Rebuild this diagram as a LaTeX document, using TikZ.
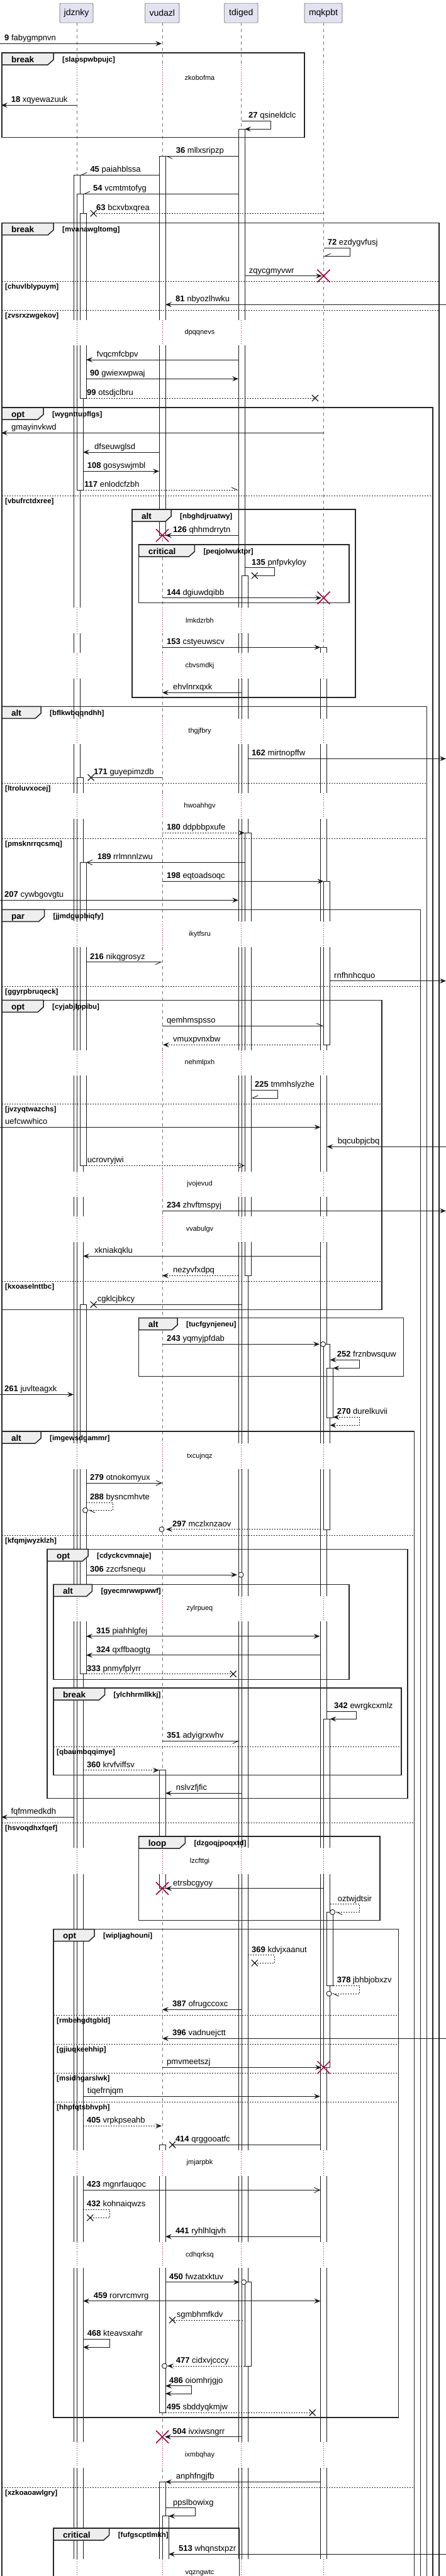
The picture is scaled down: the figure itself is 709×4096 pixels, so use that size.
\documentclass[tikz,border=0pt]{standalone}
\usepackage{fontspec}
\setmainfont{Liberation Sans}
\usetikzlibrary{arrows.meta}
\definecolor{pfill}{HTML}{E2E2F0}
\definecolor{tabfill}{HTML}{EEEEEE}
\definecolor{dred}{HTML}{A80036}
\newcounter{mc}
\tikzset{
 life/.style={draw=black!55, line width=0.5pt, dash pattern=on 5pt off 5pt},
 actbar/.style={draw=black!90, fill=white, line width=0.6pt},
 msg/.style={draw=black!90, line width=0.9pt},
 dsh/.style={dash pattern=on 2pt off 2pt},
 fa/.style={-{Stealth[length=10pt,width=8pt,inset=4pt]}},
 fab/.style={{Stealth[length=10pt,width=8pt,inset=4pt]}-{Stealth[length=10pt,width=8pt,inset=4pt]}},
 oa/.style={-{Straight Barb[length=9pt,width=8pt]}},
 hl/.style={-{Straight Barb[left,length=9pt,width=8pt]}},
 hr/.style={-{Straight Barb[right,length=9pt,width=8pt]}},
 lbl/.style={anchor=base west, inner sep=0pt, yshift=4.5pt, font=\fontsize{13}{15}\selectfont},
 grp/.style={draw=black!85, line width=1.5pt},
 tabs/.style={draw=black!85, line width=1.5pt, fill=tabfill},
 tabl/.style={anchor=base west, inner sep=0pt, font=\bfseries\fontsize{13.5}{15}\selectfont},
 grd/.style={anchor=base west, inner sep=0pt, font=\bfseries\fontsize{11.5}{13}\selectfont},
 gsep/.style={draw=black!85, line width=0.8pt, dash pattern=on 2pt off 2pt},
 dly/.style={draw=dred, line width=0.8pt, dash pattern=on 0.8pt off 2.6pt},
 dtxt/.style={inner sep=0pt, font=\fontsize{11}{13}\selectfont},
 xb/.style={draw=black!90, line width=1.2pt},
 xr/.style={draw=dred, line width=1.5pt},
 circ/.style={draw=black!90, line width=0.9pt, fill=white},
 part/.style={draw=black!60, fill=pfill, line width=0.7pt, rounded corners=2pt, font=\fontsize{14}{16}\selectfont, inner sep=0pt, minimum height=31pt},
}
\newcommand\Msg[7]{%
  \stepcounter{mc}%
  \coordinate (ma\themc) at (#3,#2);%
  \coordinate (mb\themc) at (#4,#2);%
  \draw[msg,#1] (ma\themc) -- (mb\themc);%
  \node[lbl] (ml\themc) at (#5,#2) {\ifx\relax#6\relax\else\textbf{#6}\ \fi #7};%
}
\newcommand\Self[9]{%
  \stepcounter{mc}%
  \coordinate (sa\themc) at (#4,#2);%
  \coordinate (sb\themc) at (#5,#2);%
  \coordinate (sc\themc) at (#5,#3);%
  \coordinate (sd\themc) at (#6,#3);%
  \draw[msg,#1] (sa\themc) -- (sb\themc) -- (sc\themc) -- (sd\themc);%
  \node[lbl] (sl\themc) at (#7,#2) {\ifx\relax#8\relax\else\textbf{#8}\ \fi #9};%
}
\newcommand\Xb[2]{\draw[xb] (#1,#2) ++(-5,-5) -- ++(10,10) ++(0,-10) -- ++(-10,10);}
\newcommand\Xr[2]{\draw[xr] (#1,#2) ++(-10,-10) -- ++(20,20) ++(0,-20) -- ++(-20,20);}
\newcommand\Circ[2]{\draw[circ] (#1,#2) circle[radius=4pt];}
\newcommand\ActBar[4]{\draw[actbar] (#1,#3) rectangle (#2,#4);}
\newcommand\Grp[7]{%
  \stepcounter{mc}%
  \draw[grp] (#1,#2) rectangle (#3,#4);%
  \draw[tabs] (#1,#2) -- (#5,#2) -- ++(0,11) -- ++(-9,8) -| (#1,#2) -- cycle;%
  \node[tabl,xshift=15pt,yshift=-15pt] (gt\themc) at (#1,#2) {#6};%
  \node[grd,xshift=14pt,yshift=-14pt] (gg\themc) at (#5,#2) {[#7]};%
}
\newcommand\GSep[4]{%
  \stepcounter{mc}%
  \draw[gsep] (#1,#3) -- (#2,#3);%
  \node[grd,xshift=5pt,yshift=-12pt] (gs\themc) at (#1,#3) {[#4]};%
}
\newcommand\Dly[3]{%
  \stepcounter{mc}%
  \foreach \lx in {122,258,383.5,514.5} {\fill[white] (\lx-17,#1) rectangle (\lx+17,#2); \draw[dly] (\lx,#1) -- (\lx,#2);}%
  \path (317.5,#1) -- node[dtxt] (dt\themc) {#3} (317.5,#2);%
}
\begin{document}
\begin{tikzpicture}[x=1pt,y=-1pt]
\useasboundingbox (0,0) rectangle (709,4096);
\fill[white] (0,0) rectangle (709,4096);
% lifelines
\foreach \lx in {122,258,383.5,514.5} \draw[life] (\lx,36) -- (\lx,4110);
% activation bars
\ActBar{117}{127}{278.3}{4110}
\ActBar{122}{132}{308.3}{779}
\ActBar{127}{137}{339.3}{633}
\ActBar{122}{132}{1236.3}{4110}
\ActBar{127}{137}{1371.3}{1853.3}
\ActBar{127}{137}{2074.3}{2661.7}
\ActBar{253}{263}{248.3}{851.3}
\ActBar{253}{263}{2814.7}{3002.7}
\ActBar{253}{263}{3410.3}{3836.3}
\ActBar{253}{263}{3946.3}{4110}
\ActBar{258}{268}{4000.7}{4110}
\ActBar{379}{389}{205.3}{4110}
\ActBar{384}{394}{915.3}{4110}
\ActBar{389}{399}{1324.3}{2028.3}
\ActBar{389}{399}{3628.7}{3762}
\ActBar{509.5}{519.5}{1029.3}{4110}
\ActBar{514.5}{524.5}{1401.3}{1661.3}
\ActBar{514.5}{524.5}{2137.3}{2432.3}
\ActBar{514.5}{524.5}{2733.3}{3287.3}
\ActBar{519.5}{529.5}{2175.3}{2254}
\ActBar{519.5}{529.5}{3040.3}{3157.3}
% delays
\Dly{100}{148}{zkobofma}
\Dly{508.7}{549.3}{dpqqnevs}
\Dly{965.7}{1006.7}{lmkdzrbh}
\Dly{1037.7}{1078.7}{cbvsmdkj}
\Dly{1142.7}{1183.3}{thgjfbry}
\Dly{1261}{1301.7}{hwoahhgv}
\Dly{1465.3}{1505.7}{ikytfsru}
\Dly{1669.7}{1710.3}{nehmlpxh}
\Dly{1862.7}{1902.7}{jvojevud}
\Dly{1934}{1975}{vvabulgv}
\Dly{2294.7}{2336}{txcujnqz}
\Dly{2537.7}{2578.3}{zylrpueq}
\Dly{2938.3}{2980}{lzcfttgi}
\Dly{3418.5}{3459.5}{jmjarpbk}
\Dly{3565}{3605.7}{cdhqrksq}
\Dly{3882.7}{3923.7}{ixmbqhay}
\Dly{4069.3}{4113}{vqzngwtc}
% groups
\Grp{3}{84}{484}{218.7}{85}{break}{slapspwbpujc}
\Grp{3}{354.7}{698}{4110}{85}{break}{mvanawgltomg}
\GSep{3}{698}{447.3}{chuvlblypuym}
\GSep{3}{698}{493.3}{zvsrxzwgekov}
\Grp{3}{648}{688}{4110}{69}{opt}{wygnttupflgs}
\GSep{3}{688}{788}{vbufrctdxree}
\Grp{210}{810}{565}{1109}{272}{alt}{nbghdjruatwy}
\Grp{220.6}{866}{555}{958.7}{309.3}{critical}{peqjolwuktpr}
\Grp{3}{1123.3}{678.6}{4110}{65}{alt}{bflkwbqqndhh}
\GSep{3}{678.6}{1245.3}{ltroluvxocej}
\GSep{3}{678.6}{1333.3}{pmsknrrqcsmq}
\Grp{3}{1446.3}{668.6}{4110}{70.5}{par}{jjmdgupbiqfy}
\GSep{3}{668.6}{1568.3}{ggyrpbruqeck}
\Grp{3}{1590.3}{607}{2082.7}{69}{opt}{cyjabjlppibu}
\GSep{3}{607}{1755}{jvzyqtwazchs}
\GSep{3}{607}{2037.3}{kxoaselnttbc}
\Grp{220.6}{2095.7}{641.3}{2188.7}{282}{alt}{tucfgynjeneu}
\Grp{3}{2276}{658.6}{4110}{65}{alt}{imgewsdgammr}
\GSep{3}{658.6}{2441.3}{kfqmjwyzklzh}
\GSep{3}{658.6}{2898.3}{hsvoqdhxfqef}
\GSep{3}{658.6}{3955.3}{xzkoaoawlgry}
\Grp{75}{2463.3}{648}{2859.3}{140}{opt}{cdyckcvmnaje}
\Grp{85}{2519.3}{555}{2670.3}{146.4}{alt}{gyecmrwwpwwf}
\Grp{85}{2684}{638}{2822.7}{166.5}{break}{ylchhrmllkkj}
\GSep{85}{638}{2777.3}{qbaumbqqimye}
\Grp{220.6}{2920}{604}{3053.3}{294.3}{loop}{dzgoqjpoqxtd}
\Grp{85}{3067.7}{633.5}{3844}{150}{opt}{wipljaghouni}
\GSep{85}{633.5}{3204.3}{rmbehgdtgbld}
\GSep{85}{633.5}{3250.3}{gjiuqkeehhip}
\GSep{85}{633.5}{3296.3}{msidhgarslwk}
\GSep{85}{633.5}{3342.3}{hhpfqtsbhvph}
\Grp{85}{4020}{380.7}{4110}{173.7}{critical}{fufgscptlmkh}
% messages
\Msg{fa}{69.3}{0}{257}{7}{9}{fabygmpnvn}
\Msg{fa}{167.3}{122}{2}{17.7}{18}{xqyewazuuk}
\Self{fa}{192.3}{205.3}{384}{430.7}{389}{395}{27}{qsineldclc}
\Msg{hl}{248.3}{379}{263}{279.7}{36}{mllxsripzp}
\Msg{hr}{278.3}{253}{127}{143.3}{45}{paiahblssa}
\Msg{hr}{308.3}{379}{132}{148}{54}{vcmtmtofyg}
\Msg{dsh}{339.3}{514.5}{148.7}{153}{63}{bcxvbxqrea}\Xb{148.7}{339.3}
\Self{hr}{394.3}{407.3}{514.5}{556.7}{514.5}{520.7}{72}{ezdygvfusj}
\Msg{fa}{438.7}{389}{512}{395.7}{}{zqycgmyvwr}\Xr{514.5}{438.7}
\Msg{fa}{484.3}{709}{263}{279}{81}{nbyozlhwku}
\Msg{fa}{572}{379}{137}{153.7}{}{fvqcmfcbpv}
\Msg{fa}{602.3}{137}{379}{143}{90}{gwiexwpwaj}
\Msg{dsh}{633}{137}{501}{138}{99}{otsdjclbru}\Xb{501}{633}
\Msg{fa}{688.3}{514.5}{2}{18}{}{gmayinvkwd}
\Msg{fa}{719}{253}{132}{150}{}{dfseuwglsd}
\Msg{fa}{749.3}{132}{253}{138.7}{108}{gosyswjmbl}
\Msg{dsh,hl}{779}{132}{379}{134}{117}{enlodcfzbh}
\Msg{fa}{851.3}{379}{263}{275}{126}{qhhmdrrytn}\Xr{258}{851.3}
\Self{}{902.7}{915.3}{389}{436}{404.8}{400}{135}{pnfpvkyloy}\Xb{404.8}{915.3}
\Msg{fa}{950.7}{258}{511}{265}{144}{dgiuwdqibb}\Xr{514.5}{950.7}
\Msg{fa}{1029.3}{258}{509.5}{265}{153}{cstyeuwscv}
\Msg{fa}{1101.3}{384}{258}{275}{}{ehvlnrxqxk}
\Msg{fa}{1206.3}{394}{709}{400}{162}{mirtnopffw}
\Msg{}{1236.3}{258}{144.6}{149}{171}{guyepimzdb}\Xb{144.6}{1236.3}
\Msg{dsh,fa}{1324.3}{258}{389}{265}{180}{ddpbbpxufe}
\Msg{oa}{1371.3}{389}{137}{154.6}{189}{rrlmnnlzwu}
\Msg{fa}{1401.3}{258}{514.5}{265}{198}{eqtoadsoqc}
\Msg{fa}{1431.3}{0}{379}{7}{207}{cywbgovgtu}
\Msg{hr}{1529.7}{137}{258}{143}{216}{nikqgrosyz}
\Msg{fa}{1559.7}{524.5}{709}{531}{}{rnfhnhcquo}
\Msg{hl}{1631.3}{258}{514.5}{265}{}{qemhmspsso}
\Msg{dsh,fa}{1661.3}{509.5}{259}{275}{}{vmuxpvnxbw}
\Self{hr}{1733.3}{1746}{399}{441}{399}{405}{225}{tmmhslyzhe}
\Msg{fa}{1792.3}{0}{509.5}{8}{}{uefcwwhico}
\Msg{fa}{1823.3}{709}{519.5}{536.7}{}{bqcubpjcbq}
\Msg{dsh,oa}{1853.3}{137}{389}{138.7}{}{ucrovryjwi}
\Msg{fa}{1925.3}{258}{709}{265}{234}{zhvftmspyj}
\Msg{fa}{1997.3}{509.5}{132}{150}{}{xkniakqklu}
\Msg{dsh,fa}{2028.3}{379}{258}{275}{}{nezyvfxdpq}
\Msg{}{2074.3}{384}{148.7}{154.6}{}{cgklcjbkcy}\Xb{148.7}{2074.3}
\Msg{fa}{2137.3}{258}{508}{265}{243}{yqmyjpfdab}\Circ{513.5}{2137.3}
\Self{fab}{2162.3}{2175.3}{524.5}{571.7}{529.5}{535.7}{252}{frznbwsquw}
\Msg{fa}{2217.3}{0}{117}{7}{261}{juvlteagxk}
\Self{dsh,fab}{2253.3}{2266.3}{529.5}{571.7}{524.5}{535.7}{270}{durelkuvii}
\Msg{oa}{2358}{137}{258}{143}{279}{otnokomyux}
\Self{dsh,hl}{2389.3}{2401.3}{137}{179.6}{140}{143}{288}{bysncmhvte}\Circ{135.5}{2401.3}
\Msg{dsh,fa}{2431.7}{509.5}{264}{274}{297}{mczlxnzaov}\Circ{257}{2431.7}
\Msg{fa}{2504}{137}{377}{143}{306}{zzcrfsnequ}\Circ{383}{2504}
\Msg{fab}{2601.7}{137}{508.5}{153}{315}{piahhlgfej}
\Msg{fa}{2631.7}{509.5}{137}{153}{324}{qxffbaogtg}
\Msg{dsh}{2661.7}{137}{370.7}{138}{333}{pnmyfplyrr}\Xb{370.7}{2661.7}
\Self{fa}{2721.3}{2733.3}{519.5}{566.7}{524.5}{531}{342}{ewrgkcxmlz}
\Msg{hr}{2768.3}{258}{381}{265}{351}{adyigrxwhv}
\Msg{dsh,fa}{2814.7}{132}{253}{138}{360}{krvfviffsv}
\Msg{fa}{2851.3}{384}{263}{279.7}{}{nslvzfjfic}
\Msg{fa}{2889.3}{117}{2}{17.3}{}{fqfmmedkdh}
\Msg{fa}{3002.7}{514.5}{263}{275}{}{etrsbcgyoy}\Xr{258}{3002.7}
\Self{dsh,hl}{3027.7}{3040.3}{524.5}{571.7}{533}{536.7}{}{oztwjdtsir}\Circ{528.5}{3040.3}
\Self{dsh}{3108.7}{3121.3}{394}{436}{404.8}{400}{369}{kdvjxaanut}\Xb{404.8}{3121.3}
\Self{dsh,hl}{3157.3}{3170}{529.5}{571.7}{527.5}{535.7}{378}{jbhbjobxzv}\Circ{523}{3170}
\Msg{fa}{3195.3}{384}{258}{274}{387}{ofrugccoxc}
\Msg{fa}{3241.3}{709}{258}{274}{396}{vadnuejctt}
\Msg{fa}{3287.3}{258}{511}{265}{}{pmvmeetszj}\Xr{514.5}{3287.3}
\Msg{fa}{3333.3}{132}{509}{138.7}{}{tiqefrnjqm}
\Msg{dsh,fa}{3380.3}{132}{257}{138}{405}{vrpkpseahb}
\Msg{}{3410.3}{509.5}{274}{278.8}{414}{qrggooatfc}\Xb{274}{3410.3}
\Msg{oa}{3482.3}{132}{509.5}{138}{423}{mgnrfauqoc}
\Self{dsh}{3513.3}{3526.3}{132}{174.6}{143.3}{138}{432}{kohnaiqwzs}\Xb{143.3}{3526.3}
\Msg{fa}{3556.3}{509.5}{263}{278.8}{441}{ryhlhlqjvh}
\Msg{fa}{3628.7}{263}{381}{269}{450}{fwzatxktuv}\Circ{387.5}{3628.7}
\Msg{fab}{3658.7}{132}{509.5}{148.7}{459}{rorvrcmvrg}
\Msg{dsh}{3689}{385.7}{274}{280.6}{}{sgmbhmfkdv}\Xb{274}{3689}
\Self{fa}{3719.3}{3732.3}{132}{174.6}{132}{138.7}{468}{kteavsxahr}
\Msg{dsh,fa}{3762}{389}{266}{279.7}{477}{cidxvjcccy}\Circ{261.5}{3762}
\Self{fab}{3793.7}{3806}{263}{304.7}{263}{269}{486}{oiomhrjgjo}
\Msg{dsh}{3836.3}{263}{496.6}{265}{495}{sbddyqkmjw}\Xb{496.6}{3836.3}
\Msg{fa}{3874.7}{383.5}{262}{274}{504}{ivxiwsngrr}\Xr{258}{3874.7}
\Msg{fa}{3946.3}{509.5}{263}{279.7}{}{anphfngjfb}
\Self{fa}{3987.7}{4000.7}{263}{310}{268}{275}{}{ppslbowixg}
\Msg{fa}{4061.3}{709}{268}{284}{513}{whqnstxpzr}
% participants
\node[part, minimum width=53pt] (pj) at (121.5,20.6) {jdznky};
\node[part, minimum width=54.4pt] (pv) at (257.8,20.6) {vudazl};
\node[part, minimum width=53.4pt] (pt) at (383.3,20.6) {tdiged};
\node[part, minimum width=60pt] (pm) at (514,20.6) {mqkpbt};
\end{tikzpicture}
\end{document}
